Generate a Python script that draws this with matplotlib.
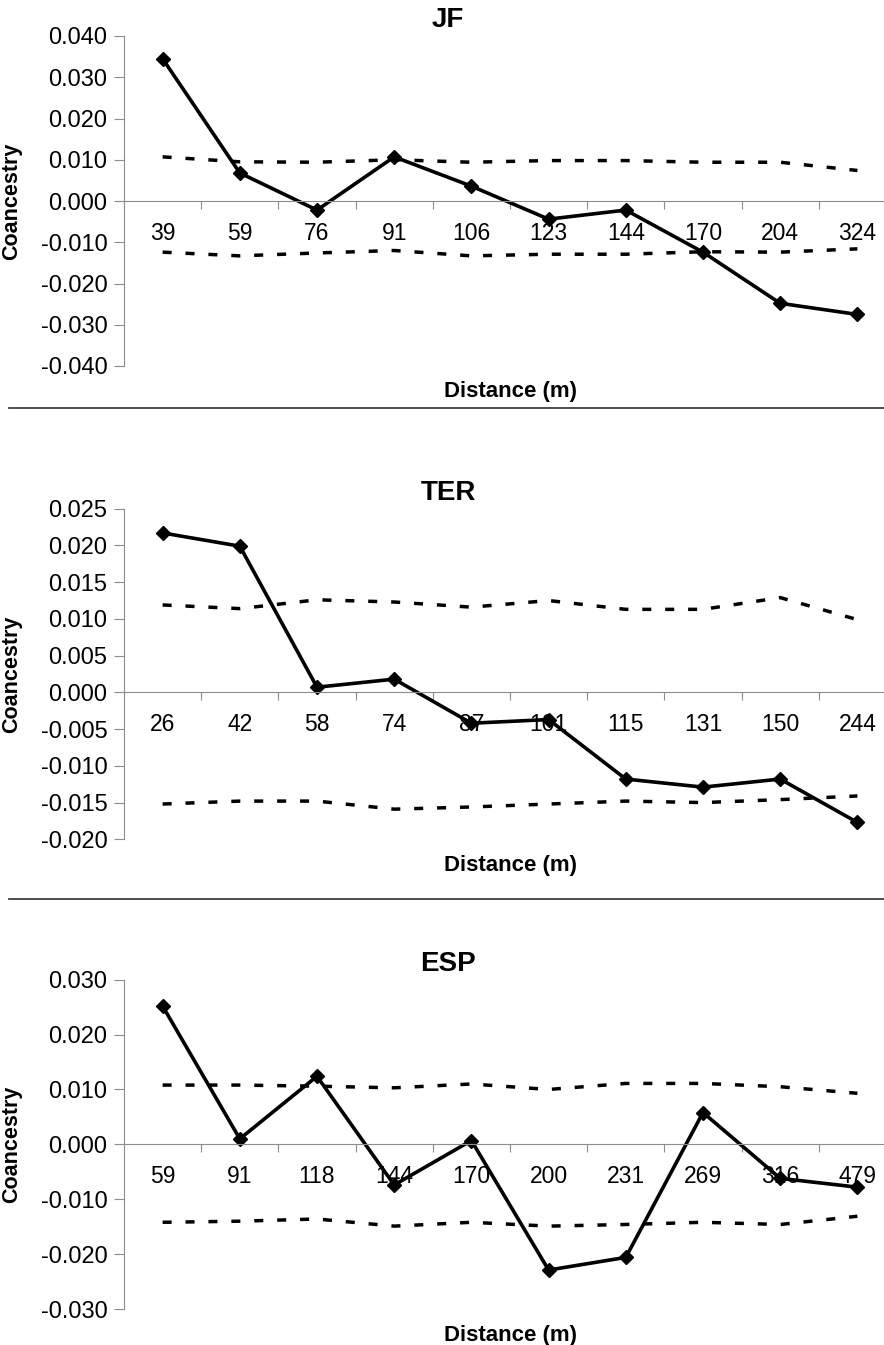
import numpy as np
import matplotlib
matplotlib.use('Agg')
import matplotlib.pyplot as plt
from matplotlib.lines import Line2D
from matplotlib.ticker import FormatStrFormatter

plt.rcParams['font.family'] = ['Liberation Sans', 'DejaVu Sans']
plt.rcParams['axes.unicode_minus'] = False

# JF
jf_dist = ['39', '59', '76', '91', '106', '123', '144', '170', '204', '324']
jf_obs = [0.0345, 0.0068, -0.0022, 0.0107, 0.0036, -0.0044, -0.0022, -0.0124, -0.0248, -0.0275]
jf_upper = [0.0107, 0.0095, 0.0094, 0.0100, 0.0094, 0.0098, 0.0098, 0.0094, 0.0094, 0.0074]
jf_lower = [-0.0124, -0.0133, -0.0126, -0.0120, -0.0133, -0.0129, -0.0129, -0.0123, -0.0124, -0.0116]

# TER
ter_dist = ['26', '42', '58', '74', '87', '101', '115', '131', '150', '244']
ter_obs = [0.0217, 0.0199, 0.0007, 0.0018, -0.0042, -0.0037, -0.0118, -0.0129, -0.0118, -0.0177]
ter_upper = [0.0119, 0.0114, 0.0126, 0.0123, 0.0116, 0.0125, 0.0113, 0.0113, 0.0129, 0.0099]
ter_lower = [-0.0152, -0.0148, -0.0148, -0.0159, -0.0156, -0.0152, -0.0148, -0.0150, -0.0146, -0.0141]

# ESP
esp_dist = ['59', '91', '118', '144', '170', '200', '231', '269', '316', '479']
esp_obs = [0.0252, 0.0010, 0.0124, -0.0074, 0.0007, -0.0229, -0.0206, 0.0058, -0.0062, -0.0078]
esp_upper = [0.0108, 0.0108, 0.0106, 0.0103, 0.0110, 0.0100, 0.0111, 0.0111, 0.0105, 0.0093]
esp_lower = [-0.0142, -0.0140, -0.0136, -0.0149, -0.0142, -0.0149, -0.0146, -0.0142, -0.0146, -0.0131]

W, H = 884, 1345
gray = '#8c8c8c'

fig = plt.figure(figsize=(W / 100, H / 100), dpi=100)


def box(left, top, right, bottom):
    return [left / W, 1 - bottom / H, (right - left) / W, (bottom - top) / H]


panels = [
    ('JF', jf_dist, jf_obs, jf_upper, jf_lower, (-0.040, 0.040, 9), (36, 366)),
    ('TER', ter_dist, ter_obs, ter_upper, ter_lower, (-0.020, 0.025, 10), (508.7, 839.3)),
    ('ESP', esp_dist, esp_obs, esp_upper, esp_lower, (-0.030, 0.030, 7), (979.7, 1309)),
]

for name, dist, obs, upper, lower, (ymin, ymax, nt), (top, bottom) in panels:
    ax = fig.add_axes(box(124, top, 896, bottom))
    x = np.arange(len(dist))
    dash = (0, (2.6, 4.0))
    ax.plot(x, upper, color='black', lw=2.5, ls=dash, dash_capstyle='butt')
    ax.plot(x, lower, color='black', lw=2.5, ls=dash, dash_capstyle='butt')
    ax.plot(x, obs, color='black', lw=2.6, marker='D', ms=7.5)

    ax.set_xlim(-0.5, len(dist) - 0.5)
    ax.set_ylim(ymin, ymax)
    ax.set_yticks(np.linspace(ymin, ymax, nt))
    ax.yaxis.set_major_formatter(FormatStrFormatter('%.3f'))

    ax.spines['top'].set_visible(False)
    ax.spines['right'].set_visible(False)
    ax.spines['bottom'].set_position(('data', 0))
    ax.spines['bottom'].set_color(gray)
    ax.spines['left'].set_color(gray)
    ax.set_axisbelow(True)

    ax.set_xticks(np.arange(len(dist) - 1) + 0.5)
    ax.set_xticks(x, minor=True)
    ax.set_xticklabels(dist, minor=True)
    ax.tick_params(axis='x', which='major', direction='out', length=6,
                   color=gray, labelbottom=False)
    ax.tick_params(axis='x', which='minor', length=0, pad=15, labelsize=16.5)
    ax.tick_params(axis='y', direction='out', length=7, color=gray,
                   labelsize=17, pad=5)

    ax.set_ylabel('Coancestry', fontsize=15.5, fontweight='bold')
    ax.yaxis.set_label_coords(-102 / 772, 0.5)
    ax.set_xlabel('Distance (m)', fontsize=16, fontweight='bold', va='center')
    ax.xaxis.set_label_coords(0.5, -26 / (bottom - top))
    ax.set_title(name, fontsize=20, fontweight='bold', x=(448 - 124) / 772,
                 y=1 + 16 / (bottom - top), va='center', pad=0)

# separators between panels
for ypix in (408.5, 899):
    fig.add_artist(Line2D([9 / W, 1], [1 - ypix / H, 1 - ypix / H],
                          transform=fig.transFigure, color='#404040', lw=1.3))

fig.savefig('out.png', dpi=100)
